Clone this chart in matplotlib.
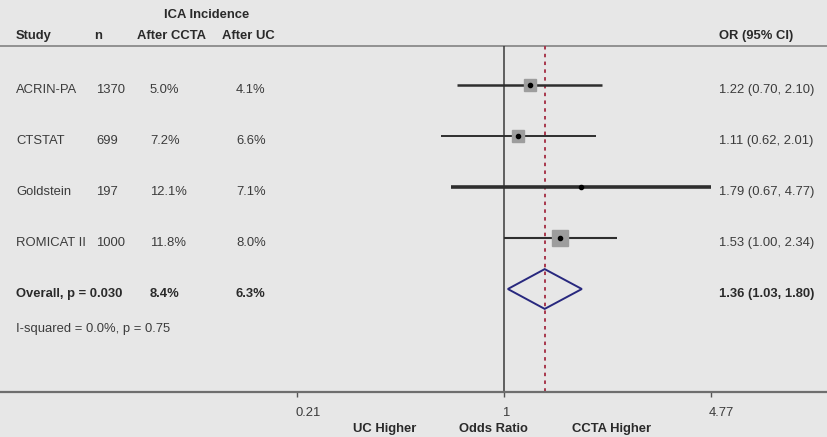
import matplotlib
matplotlib.use("Agg")
import matplotlib.pyplot as plt
import matplotlib.transforms as mtransforms
from matplotlib.ticker import NullLocator

plt.rcParams['font.family'] = ['Liberation Sans', 'DejaVu Sans']
plt.rcParams['font.size'] = 9

# study data
studies = ["ACRIN-PA", "CTSTAT", "Goldstein", "ROMICAT II"]
n_patients = [1370, 699, 197, 1000]
ica_ccta = ["5.0%", "7.2%", "12.1%", "11.8%"]
ica_uc = ["4.1%", "6.6%", "7.1%", "8.0%"]
odds = [1.22, 1.11, 1.79, 1.53]
ci_low = [0.70, 0.62, 0.67, 1.00]
ci_high = [2.10, 2.01, 4.77, 2.34]

# pooled estimate
overall_label = "Overall, p = 0.030"
overall_ccta = "8.4%"
overall_uc = "6.3%"
overall_or = 1.36
overall_low = 1.03
overall_high = 1.80
hetero_label = "I-squared = 0.0%, p = 0.75"

x_ticks = [0.21, 1, 4.77]

# marker styles per study (box size ~ study weight)
box_sizes = [9, 9, 0, 11.5]
ci_widths = [1.8, 1.4, 2.6, 1.5]

bg = '#e7e7e7'
txt = '#3c3c3c'
fs = 9.4

fig = plt.figure(figsize=(8.27, 4.37), dpi=100, facecolor=bg)
ax = fig.add_axes([0, 0, 1, 1], facecolor=bg)
ax.set_xscale('log')
ax.set_xlim(0.0223, 11.45)
ax.set_ylim(6.902, -1.667)

for s in ['left', 'top', 'right']:
    ax.spines[s].set_visible(False)
ax.spines['bottom'].set_position(('data', 6.02))
ax.spines['bottom'].set_color('#6e6e6e')
ax.spines['bottom'].set_linewidth(1.6)
ax.yaxis.set_visible(False)
ax.xaxis.set_minor_locator(NullLocator())
ax.set_xticks(x_ticks)
ax.set_xticklabels(['0.21', '1', '4.77'])
ax.tick_params(axis='x', direction='out', length=3.5, width=1, color='#555555',
               pad=7, labelsize=fs, labelcolor=txt)
shift = mtransforms.ScaledTranslation(-2 / 100, 0, fig.dpi_scale_trans)
for lab in ax.get_xticklabels():
    lab.set_horizontalalignment('left')
    lab.set_transform(lab.get_transform() + shift)

rows = list(range(len(studies)))
overall_row = len(studies)
top_row = -0.765
axis_row = 6.02

# header rule and reference lines
ax.axhline(top_row, color='#8a8a8a', lw=1.3)
ax.vlines(1, top_row, axis_row, color='#3a3a3a', lw=1.1)
ax.vlines(overall_or, top_row, axis_row, color='#a8384c', lw=1.4,
          linestyles=(0, (1.8, 2.2)))

# study estimates
for r, o, lo, hi, bs, w in zip(rows, odds, ci_low, ci_high, box_sizes, ci_widths):
    ax.hlines(r, lo, hi, color='#2e2e2e', lw=w, zorder=3)
    if bs > 0:
        ax.plot(o, r, marker='s', ms=bs, color='#9d9d9d', mec='#9d9d9d', zorder=4)
    ax.plot(o, r, marker='o', ms=3, color='black', zorder=5)

# pooled diamond
dh = 0.39
ax.fill([overall_low, overall_or, overall_high, overall_or, overall_low],
        [overall_row, overall_row - dh, overall_row, overall_row + dh, overall_row],
        facecolor='none', edgecolor='#28287e', lw=1.4, zorder=4)

# text columns (x in figure fraction, y in rows)
tr = mtransforms.blended_transform_factory(ax.transAxes, ax.transData)
col_study, col_n, col_ccta, col_uc, col_or = 16 / 827, 96 / 827, 150 / 827, 236 / 827, 719 / 827
dy = 0.1

hdr = dict(transform=tr, fontweight='bold', color='#2a2a2a', va='center', fontsize=fs)
ax.text(207 / 827, -1.37, "ICA Incidence", ha='center', **hdr)
ax.text(col_study, -0.96, "Study", ha='left', **hdr)
ax.text(98 / 827, -0.96, "n", ha='center', **hdr)
ax.text(137 / 827, -0.96, "After CCTA", ha='left', **hdr)
ax.text(222 / 827, -0.96, "After UC", ha='left', **hdr)
ax.text(col_or, -0.96, "OR (95% CI)", ha='left', **hdr)

body = dict(transform=tr, color=txt, va='center', ha='left', fontsize=fs)
for r, name, n, a, b, o, lo, hi in zip(rows, studies, n_patients, ica_ccta, ica_uc,
                                       odds, ci_low, ci_high):
    ax.text(col_study, r + dy, name, **body)
    ax.text(col_n, r + dy, str(n), **body)
    ax.text(col_ccta, r + dy, a, **body)
    ax.text(col_uc, r + dy, b, **body)
    ax.text(col_or, r + dy, f"{o:.2f} ({lo:.2f}, {hi:.2f})", **body)

bold = dict(body, fontweight='bold', color='#2a2a2a')
ax.text(col_study, overall_row + dy, overall_label, **bold)
ax.text(col_ccta, overall_row + dy, overall_ccta, **bold)
ax.text(col_uc, overall_row + dy, overall_uc, **bold)
ax.text(col_or, overall_row + dy,
        f"{overall_or:.2f} ({overall_low:.2f}, {overall_high:.2f})", **bold)
ax.text(col_study, overall_row + 0.78, hetero_label, **body)

# direction labels under the axis
foot = dict(transform=tr, fontweight='bold', color='#2a2a2a', va='center', ha='center', fontsize=fs)
ax.text(385 / 827, 6.75, "UC Higher", **foot)
ax.text(493 / 827, 6.75, "Odds Ratio", **foot)
ax.text(612 / 827, 6.75, "CCTA Higher", **foot)

fig.savefig("out.png", dpi=100, facecolor=bg)
